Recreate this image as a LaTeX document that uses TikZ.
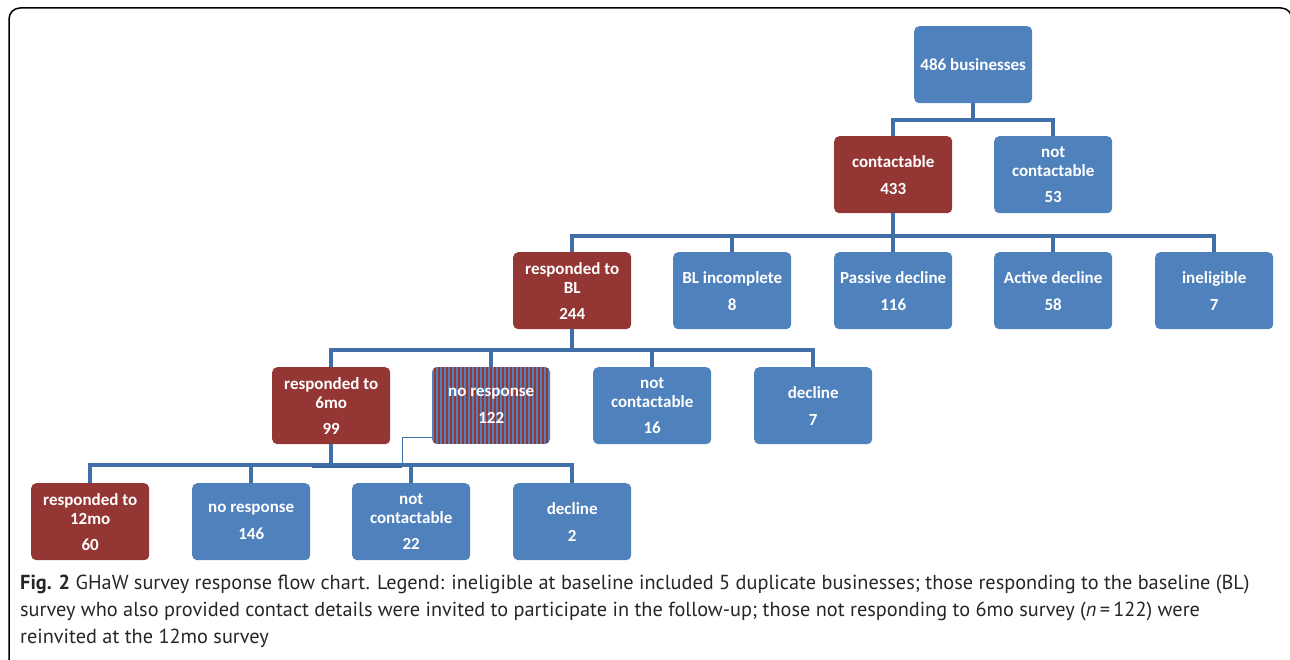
\documentclass[tikz,border=0pt]{standalone}
\usepackage{fontspec}
\setmainfont{PT Sans}
\newfontfamily\boxfont{Carlito}
\usetikzlibrary{calc}
\definecolor{ofblue}{HTML}{4F81BD}
\definecolor{ofred}{HTML}{943634}
\definecolor{lnblue}{HTML}{416FAA}
\definecolor{barblue}{HTML}{3A62A0}
\begin{document}
\begin{tikzpicture}[x=1pt,y=-1pt,
  bx/.style={rounded corners=5pt, minimum width=118pt, minimum height=77pt, inner sep=0pt,
    text=white, align=center, anchor=north west,
    font=\boxfont\bfseries\fontsize{17}{19}\selectfont},
  bluebox/.style={bx, fill=ofblue},
  redbox/.style={bx, fill=ofred},
  conn/.style={draw=lnblue, line width=4.5pt},
  thinln/.style={draw=lnblue, line width=1pt},
  stripe/.style={fill=ofred},
  capt/.style={anchor=base west, inner sep=0pt, font=\fontsize{20.3}{27}\selectfont, text=black!85}
]
\useasboundingbox (0,0) rectangle (1290,660);
\begin{scope}
\clip (0,0) rectangle (1290,660);
\draw[line width=1.5pt, rounded corners=11pt] (9,8) rectangle (1292,720);
\end{scope}

% striped background for "no response 122"
\begin{scope}
\clip[rounded corners=5pt] (432,367) rectangle (550,444);
\fill[ofblue] (432,367) rectangle (550,444);
\foreach \i in {0,...,29} {
  \fill[stripe] ({432+4*\i+2},367) rectangle ({432+4*\i+4},444);
}
\end{scope}

% row 1
\node[bluebox] (top) at (914,26) {486 businesses};
% row 2
\node[redbox]  (contact) at (834,136) {contactable\\[8pt]433};
\node[bluebox] (notc) at (994,136) {not\\contactable\\[7pt]53};
% row 3
\node[redbox]  (respbl) at (513,252) {responded to\\BL\\[7pt]244};
\node[bluebox] (blinc) at (673,252) {BL incomplete\\[8pt]8};
\node[bluebox] (passive) at (834,252) {Passive decline\\[8pt]116};
\node[bluebox] (active) at (994,252) {Active decline\\[8pt]58};
\node[bluebox] (inel) at (1155,252) {ineligible\\[8pt]7};
% row 4
\node[redbox]  (resp6) at (272,367) {responded to\\6mo\\[7pt]99};
\node[bx] (nores) at (432,367) {no response\\[8pt]122};
\node[bluebox] (notcb) at (593,367) {not\\contactable\\[7pt]16};
\node[bluebox] (decla) at (754,367) {decline\\[8pt]7};
% row 5
\node[redbox]  (resp12) at (31,483) {responded to\\12mo\\[7pt]60};
\node[bluebox] (nores2) at (192,483) {no response\\[8pt]146};
\node[bluebox] (notcc) at (352,483) {not\\contactable\\[7pt]22};
\node[bluebox] (declb) at (513,483) {decline\\[8pt]2};

% buses
\coordinate (busA) at (0,120);
\coordinate (busB) at (0,236);
\coordinate (busC) at (0,350);
\coordinate (busD) at (0,465);

\draw[conn] (top.south) -- (top.south |- busA);
\draw[conn] (contact.north) -- (contact.north |- busA) -- (notc.north |- busA) -- (notc.north);

\draw[conn] (contact.south) -- (contact.south |- busB);
\draw[conn] (respbl.north) -- (respbl.north |- busB) -- (inel.north |- busB) -- (inel.north);
\draw[conn] (blinc.north) -- (blinc.north |- busB);
\draw[conn] (passive.north) -- (passive.north |- busB);
\draw[conn] (active.north) -- (active.north |- busB);

\draw[conn] (respbl.south) -- (respbl.south |- busC);
\draw[conn] (resp6.north) -- (resp6.north |- busC) -- (decla.north |- busC) -- (decla.north);
\draw[conn] (nores.north) -- (nores.north |- busC);
\draw[conn] (notcb.north) -- (notcb.north |- busC);

\draw[conn] (resp6.south) -- (resp6.south |- busD);
\draw[conn] (resp12.north) -- (resp12.north |- busD) -- (declb.north |- busD) -- (declb.north);
\draw[conn] (nores2.north) -- (nores2.north |- busD);
\draw[conn] (notcc.north) -- (notcc.north |- busD);

% reinvite link
\coordinate (jct) at (402,467);
\coordinate (barend) at (312,467);
\draw[thinln] ($(nores.south west)+(0,-7)$) -| (jct);
\draw[draw=barblue, line width=2.5pt] (barend) -- (jct);

% caption
\node[capt] (c1) at (20,589) {\textbf{Fig. 2} GHaW survey response flow chart. Legend: ineligible at baseline included 5 duplicate businesses; those responding to the baseline (BL)};
\node[capt] (c2) at (20,616) {survey who also provided contact details were invited to participate in the follow-up; those not responding to 6mo survey (\textit{n}\,=\,122) were};
\node[capt] (c3) at (20,643) {reinvited at the 12mo survey};
\end{tikzpicture}
\end{document}
